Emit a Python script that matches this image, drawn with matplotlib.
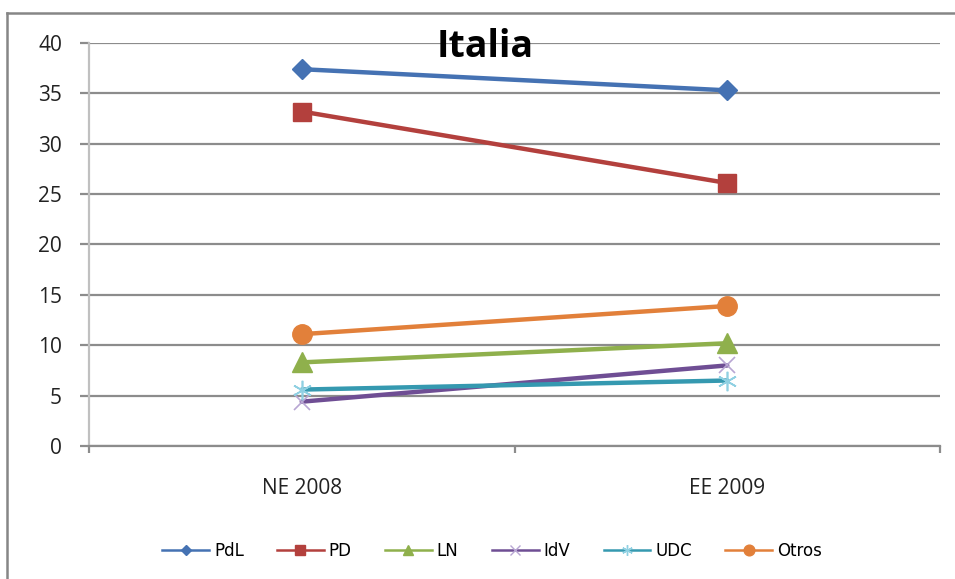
import numpy as np
import matplotlib.pyplot as plt
from matplotlib.lines import Line2D

# resultados por partido (%)
elecciones = ["NE 2008", "EE 2009"]
pdl = [37.4, 35.3]
pd_ = [33.2, 26.1]
ln = [8.3, 10.2]
idv = [4.4, 8.0]
udc = [5.6, 6.5]
otros = [11.1, 13.9]

fig = plt.figure(figsize=(9.55, 5.79), dpi=100)
fig.patch.set_facecolor("white")
ax = fig.add_axes([89 / 955, 1 - 446 / 579, 851 / 955, 403 / 579])

x = np.arange(len(elecciones)) + 0.5
gris = "#8c8c8c"

series = [
    ("PdL", pdl, "#4572b3", "#4572b3", "D", 10, 1.0),
    ("PD", pd_, "#b3403d", "#b3403d", "s", 13, 1.0),
    ("LN", ln, "#8fb04c", "#8fb04c", "^", 14, 1.0),
    ("IdV", idv, "#6f4e94", "#b8a6d3", "x", 12, 1.2),
    ("UDC", udc, "#3599b0", "#8fd0e2", (6, 2, 0), 14, 1.2),
    ("Otros", otros, "#e2803a", "#e2803a", "o", 14, 1.0),
]

handles = []
for nombre, vals, col, mcol, mk, ms, mew in series:
    ax.plot(x, vals, color=col, lw=3.2, marker=mk, markersize=ms,
            markerfacecolor=mcol, markeredgecolor=mcol, markeredgewidth=mew,
            solid_capstyle="round")
    handles.append(Line2D([0], [0], color=col, lw=1.8, marker=mk,
                          markersize=ms * 0.55, markerfacecolor=mcol,
                          markeredgecolor=mcol, label=nombre))

ax.set_xlim(0, 2)
ax.set_ylim(0, 40)
ax.set_yticks(np.arange(0, 41, 5))
ax.grid(axis="y", color=gris, lw=1.6)
ax.set_axisbelow(True)

for s in ["top", "right"]:
    ax.spines[s].set_visible(False)
ax.spines["left"].set_color("#c0c0c0")
ax.spines["left"].set_linewidth(1.6)
ax.spines["bottom"].set_color(gris)
ax.spines["bottom"].set_linewidth(1.6)

ax.set_xticks([0, 1, 2])
ax.set_xticklabels([])
ax.set_xticks(x, minor=True)
ax.set_xticklabels(elecciones, minor=True, fontsize=15, fontfamily="Open Sans",
                   color="#222222")
ax.tick_params(axis="x", which="major", length=5, width=1.6, color=gris)
ax.tick_params(axis="x", which="minor", length=0, pad=23)
ax.tick_params(axis="y", length=6.5, width=1.6, color=gris, pad=13,
               labelsize=15, labelcolor="#222222")
for t in ax.get_yticklabels():
    t.set_fontfamily("Open Sans")

fig.text(485 / 955, 1 - 47 / 579, "Italia", ha="center", va="center",
         fontsize=27, fontweight="bold", fontfamily="Open Sans")

fig.legend(handles=handles, loc="center", ncol=6,
           bbox_to_anchor=(492 / 955, 1 - 551 / 579), frameon=False,
           handlelength=2.8, columnspacing=2.0, handletextpad=0.3,
           prop={"family": ["Liberation Sans Narrow", "DejaVu Sans"], "size": 12})

# marco del gráfico
fig.add_artist(Line2D([7 / 955, 1], [1 - 13 / 579] * 2, color="#868686", lw=1.8,
                      transform=fig.transFigure))
fig.add_artist(Line2D([7 / 955] * 2, [0, 1 - 13 / 579], color="#868686", lw=1.8,
                      transform=fig.transFigure))

fig.savefig("out.png", dpi=100)
